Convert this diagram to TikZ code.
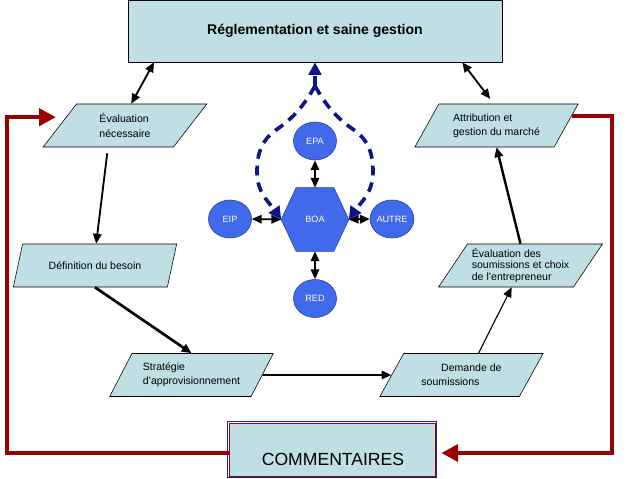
\documentclass[tikz,border=0pt]{standalone}
\usepackage{fontspec}
\setmainfont{Liberation Sans}
\usetikzlibrary{shapes.geometric,arrows.meta,calc,backgrounds}
\definecolor{paracol}{RGB}{191,223,228}
\definecolor{boablue}{RGB}{65,105,235}
\definecolor{boaline}{RGB}{30,60,170}
\definecolor{dashblue}{RGB}{15,20,140}
\definecolor{fbred}{RGB}{155,0,0}
\definecolor{boxblue}{RGB}{30,30,160}
\tikzset{
  titlebox/.style={draw, fill=paracol, minimum width=9.35cm, minimum height=1.55cm, font=\fontsize{10}{12}\selectfont\bfseries},
  para/.style={trapezium, trapezium left angle=53, trapezium right angle=127, trapezium stretches=true,
    draw, fill=paracol, minimum width=4.1cm, minimum height=1.075cm, inner sep=0pt, align=left,
    font=\fontsize{7.5}{10}\selectfont},
  bubble/.style={ellipse, draw=boaline, fill=boablue, text=white, minimum width=1.075cm, minimum height=0.95cm,
    inner sep=0pt, font=\fontsize{6.5}{8}\selectfont},
  hexa/.style={minimum width=1.675cm, minimum height=1.575cm, inner sep=0pt, text=white, font=\fontsize{6.5}{8}\selectfont},
  combox/.style={draw=fbred, fill=paracol, minimum width=5.15cm, minimum height=1.325cm},
  flow/.style={-{Triangle[length=7pt,width=6pt]}, line width=1.3pt},
  both/.style={{Triangle[length=7pt,width=6pt]}-{Triangle[length=7pt,width=6pt]}, line width=1.3pt},
  fback/.style={fbred, line width=3pt, -{Triangle[length=12pt,width=12pt]}},
  vague/.style={dashblue, line width=2.6pt, dash pattern=on 7pt off 5pt, -{Triangle[length=9pt,width=9pt]}},
}
\begin{document}
\begin{tikzpicture}[x=0.025cm, y=-0.025cm]
\useasboundingbox (0,0) rectangle (633,479);
% boxes
\node[titlebox] (title) at (315,31) {Réglementation et saine gestion};
\node[para] (eval) at (125,125.5) {Évaluation\\nécessaire};
\node[para] (def) at (95,265.5) {Définition du besoin};
\node[para] (strat) at (191.5,375) {Stratégie\\d'approvisionnement};
\node[para] (dem) at (461.5,375) {\hspace*{14pt}Demande de\\soumissions};
\node[para, font=\fontsize{7.5}{8.5}\selectfont] (evs) at (520.5,265.5) {Évaluation des\\soumissions et choix\\de l'entrepreneur};
\node[para] (attr) at (496.5,125.5) {Attribution et\\gestion du marché};
% BOA and partners
\node[hexa] (boa) at (315,219.5) {BOA};
\node[bubble] (epa) at (315,141) {EPA};
\node[bubble] (eip) at (230,219) {EIP};
\node[bubble] (autre) at (392,219) {AUTRE};
\node[bubble] (red) at (315,298.5) {RED};
\begin{scope}[on background layer]
\filldraw[fill=boablue, draw=boaline] ($(boa.north west)!.22!(boa.north east)$) -- ($(boa.north west)!.78!(boa.north east)$)
  -- (boa.east) -- ($(boa.south west)!.78!(boa.south east)$) -- ($(boa.south west)!.22!(boa.south east)$) -- (boa.west) -- cycle;
\end{scope}
\node[combox] (comm) at (332,449.5) {};
\draw[boxblue] ([shift={(-1pt,1pt)}]comm.north west) rectangle ([shift={(1pt,-1pt)}]comm.south east);
\node[font=\fontsize{12.5}{15}\selectfont] (commtxt) at (333,459) {COMMENTAIRES};
% flow
\draw[both] (title.191) -- (eval.74);
\draw[both, shorten >=1.5mm] (title.348) -- (attr.97);
\draw[flow, shorten <=1.5mm] (eval.232) -- (def.87);
\draw[flow, line width=1.9pt] (def.270) -- (strat.90);
\draw[flow] (strat.0) -- (dem.180);
\draw[flow, line width=0.8pt] (dem.52) -- (evs.248);
\draw[flow, line width=1.7pt] (evs.90) -- (attr.270);
\draw[both] (epa.south) -- (boa.north);
\draw[both] (eip.east) -- (boa.west);
\draw[both] (boa.east) -- (autre.west);
\draw[both] (boa.south) -- (red.north);
% dashed links to the top
\coordinate (apex) at (315,86);
\draw[vague] (apex) -- (title.south);
\draw[vague] (apex) to[out=240, in=35] (276,130) to[out=215, in=90] (257,172) to[out=270, in=125] (boa.west);
\draw[vague] (apex) to[out=300, in=145] (354,130) to[out=325, in=90] (373,172) to[out=270, in=55] (boa.east);
% feedback loop
\coordinate (rc) at (612,453);
\coordinate (lc) at (7,453);
\draw[fback, shorten >=1.5mm] (attr.7) -| (rc) -- (comm.east |- rc);
\draw[fback, shorten >=2.5mm] (comm.west |- rc) -- (lc) |- (eval.172);
\end{tikzpicture}
\end{document}
